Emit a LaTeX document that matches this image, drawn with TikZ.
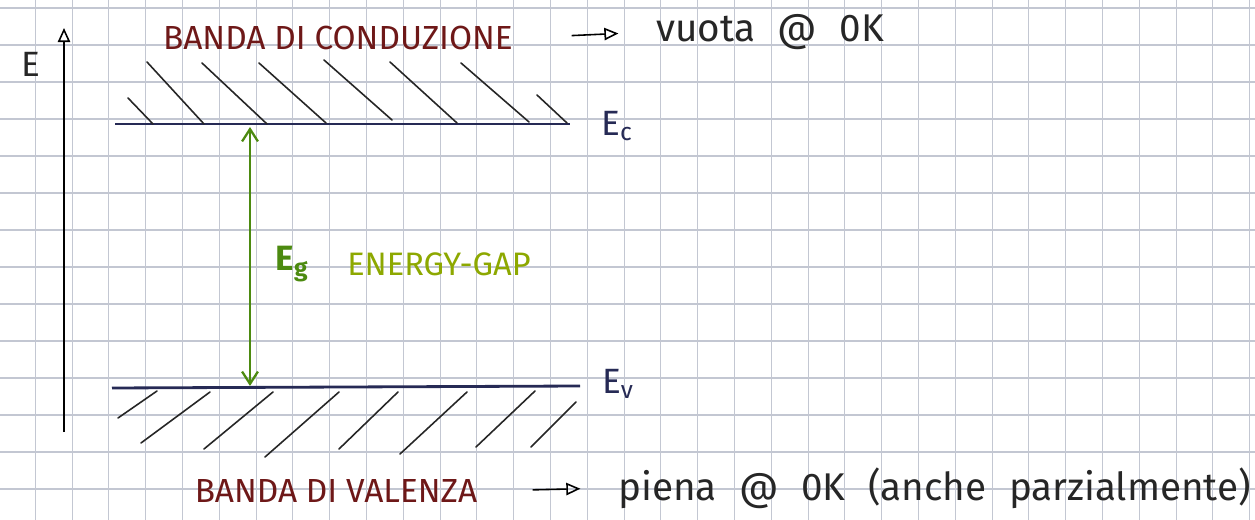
\documentclass[tikz,border=0pt]{standalone}
\usepackage{fontspec}
\setmainfont{Fira Sans}
\newfontfamily\notefont[WordSpace=2.2]{Fira Sans}
\usetikzlibrary{arrows.meta,positioning}
\definecolor{GridLine}{HTML}{C3C7D2}
\definecolor{BandInk}{HTML}{262A55}
\definecolor{TitleRed}{HTML}{6E1818}
\definecolor{GapGreen}{HTML}{4C8A10}
\definecolor{GapYellow}{HTML}{8DA800}

\begin{document}
\begin{tikzpicture}[
  x=0.02cm,y=-0.02cm,
  level/.style={draw=BandInk,line width=1.6pt},
  hatch/.style={draw=black!85,line width=0.9pt,line cap=round},
  title/.style={text=TitleRed,font=\fontsize{19}{21}\selectfont},
  note/.style={text=black!85,font=\notefont\fontsize{22}{24}\selectfont},
  lbl/.style={text=BandInk,font=\fontsize{20}{22}\selectfont},
  pointer/.style={-{Triangle[open,length=8pt,width=7pt]},line width=0.9pt},
  gap/.style={draw=GapGreen,line width=1.3pt,{Straight Barb[length=7pt,width=9pt]}-{Straight Barb[length=7pt,width=9pt]}},
]
\useasboundingbox (0,0) rectangle (1255,520);
\fill[white] (0,0) rectangle (1255,520);
% squared paper
\foreach \i in {0,...,34}
  \draw[GridLine,line width=0.6pt] ({-1.5+36.8*\i},0) -- ({-1.5+36.8*\i},520);
\foreach \j in {0,...,14}
  \draw[GridLine,line width=0.6pt] (0,{8+37*\j}) -- (1255,{8+37*\j});

% energy axis
\coordinate (ax0) at (64,432);
\coordinate (ax1) at (64,28);
\draw[pointer] (ax0) -- (ax1);
\node[text=black!85,font=\fontsize{20}{22}\selectfont] (elab) at (31,64) {E};

% conduction band
\coordinate (ec0) at (115,124);
\coordinate (ec1) at (570,124);
\draw[level] (ec0) -- (ec1);
\node[lbl] (ec) at (617,126) {E\textsubscript{c}};
\foreach \xa/\ya/\xb/\yb in {128/98/153/124, 147/62/204/124, 202/63/267/124, 259/63/326/123,
                             324/60/392/120, 390/62/457/123, 461/63/529/122, 537/95/567/123}
  \draw[hatch] (\xa,\ya) -- (\xb,\yb);

% valence band
\coordinate (ev0) at (112,388);
\coordinate (ev1) at (580,386);
\draw[level] (ev0) -- (ev1);
\node[lbl] (ev) at (618,384) {E\textsubscript{v}};
\foreach \xa/\ya/\xb/\yb in {157/391/118/418, 210/392/141/443, 273/392/204/449, 339/392/265/457,
                             398/392/339/449, 467/392/400/454, 535/391/476/447, 576/402/531/447}
  \draw[hatch] (\xa,\ya) -- (\xb,\yb);

% energy gap
\coordinate (gtop) at (250,127);
\coordinate (gbot) at (250,386);
\draw[gap] (gbot) -- (gtop);
\node[text=GapGreen,font=\fontsize{20}{22}\selectfont\bfseries] (eg) at (292,264) {E\textsubscript{g}};
\node[text=GapYellow,font=\fontsize{18.5}{20}\selectfont] (egap) at (439,264) {ENERGY-GAP};

% band titles
\node[title] (cb) at (338,38) {BANDA DI CONDUZIONE};
\node[note,anchor=west] (cbn) at (650,32) {vuota @ 0K};
\draw[pointer,shorten <=30pt,shorten >=18pt] (cb.east) -- (cbn.west);

\node[title] (vb) at (336,491) {BANDA DI VALENZA};
\node[note,anchor=west] (vbn) at (612,488) {piena @ 0K (anche parzialmente)};
\draw[pointer,shorten <=28pt,shorten >=18pt] (vb.east) -- (vbn.west);
\end{tikzpicture}
\end{document}
